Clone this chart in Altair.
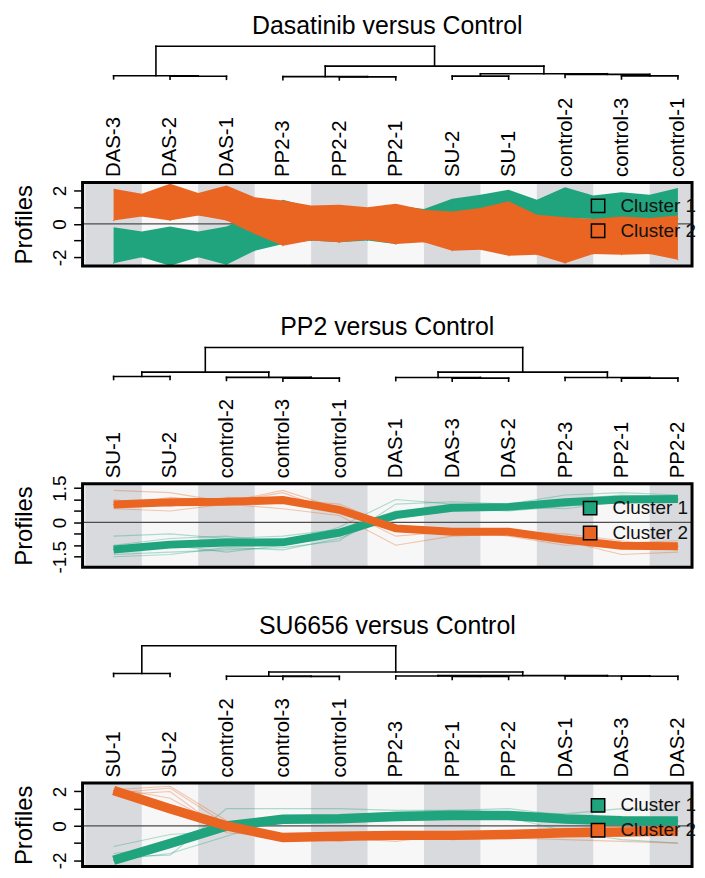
import altair as alt
import pandas as pd

FONT = "Liberation Sans"
GREEN = "#1fa47d"
ORANGE = "#ea6522"
GRAY_BAND = "#d8dade"
WHITE_BAND = "#f7f7f7"
CLUSTERS = ["Cluster 1", "Cluster 2"]

W = 613
PH = 84
DH = 34
HANG = 0.1
XDOM = [0.45, 11.25]

# ---------------- Panel 1 : Dasatinib versus Control ----------------
p1_title = "Dasatinib versus Control"
p1_samples = ["DAS-3", "DAS-2", "DAS-1", "PP2-3", "PP2-2", "PP2-1",
              "SU-2", "SU-1", "control-2", "control-3", "control-1"]
# merges: (child a, child b, height); ints refer to earlier merges
p1_merges = [("DAS-2", "DAS-1", 0.025), ("DAS-3", 0, 0.04),
             ("PP2-2", "PP2-1", 0.005), ("PP2-3", 2, 0.012),
             ("SU-2", "SU-1", 0.03), ("control-3", "control-1", 0.036),
             ("control-2", 5, 0.086), (4, 6, 0.107), (3, 7, 0.355), (1, 8, 1.0)]
p1_ydom = [-2.52, 2.48]
p1_yticks = [-2, -1, 0, 1, 2]
p1_ylabels = [-2, 0, 2]
# profile envelopes read at every sample and half-way between samples
p1_c1_hi = [-0.2, -0.45, -0.15, -0.45, -0.15, 0.55, 1.45, 1.0, 1.05, 0.9, 1.1,
            0.9, 1.5, 1.75, 2.05, 1.45, 2.2, 1.7, 1.9, 1.75, 2.15]
p1_c1_lo = [-2.35, -2.0, -2.5, -2.0, -2.45, -1.6, -1.2, -1.0, -1.1, -1.0, -1.2,
            -0.7, 0.1, 0.25, 0.35, 0.3, 0.35, 0.3, 0.3, 0.3, 0.3]
p1_c2_hi = [2.1, 1.8, 2.4, 1.85, 2.3, 1.6, 1.4, 1.1, 1.15, 1.0, 1.2,
            0.85, 0.75, 0.95, 1.35, 0.55, 0.4, 0.3, 0.45, 0.35, 0.5]
p1_c2_lo = [0.2, 0.45, 0.2, 0.5, 0.2, -0.6, -1.3, -1.0, -1.1, -0.95, -1.2,
            -1.1, -1.6, -1.55, -1.9, -1.85, -2.35, -1.8, -1.85, -1.8, -2.15]

# ---------------- Panel 2 : PP2 versus Control ----------------
p2_title = "PP2 versus Control"
p2_samples = ["SU-1", "SU-2", "control-2", "control-3", "control-1",
              "DAS-1", "DAS-3", "DAS-2", "PP2-3", "PP2-1", "PP2-2"]
p2_merges = [("SU-1", "SU-2", 0.06), ("control-3", "control-1", 0.005),
             ("control-2", 1, 0.03), (0, 2, 0.2),
             ("DAS-3", "DAS-2", 0.005), ("DAS-1", 4, 0.025),
             ("PP2-1", "PP2-2", 0.005), ("PP2-3", 6, 0.025),
             (5, 7, 0.2), (3, 8, 1.0)]
p2_ydom = [-1.96, 1.69]
p2_yticks = [-1.5, -1, -0.5, 0, 0.5, 1, 1.5]
p2_ylabels = [-1.5, 0, 1.5]
p2_c1_mean = [-1.18, -0.97, -0.88, -0.87, -0.45, 0.32, 0.64, 0.68, 0.88, 1.0, 1.02]
p2_c2_mean = [0.78, 0.88, 0.9, 0.98, 0.55, -0.26, -0.41, -0.41, -0.75, -1.02, -1.04]
p2_c1_members = [
    [-1.4, -1.3, -1.2, -1.1, -0.8, 0.8, 0.9, 0.8, 1.2, 1.3, 1.2],
    [-0.6, -0.5, -0.7, -0.6, -0.3, 0.5, 0.7, 0.7, 1.0, 1.2, 1.1],
    [-1.0, -0.7, -0.6, -0.9, -0.6, 0.2, 0.5, 0.6, 0.9, 0.9, 0.9],
    [-1.5, -1.4, -1.1, -1.2, -0.7, 0.3, 0.6, 0.5, 0.7, 1.0, 1.1],
    [-1.1, -1.0, -1.3, -1.0, -0.2, 1.0, 0.8, 0.7, 0.6, 0.9, 1.0],
]
p2_c2_members = [
    [1.4, 1.3, 0.9, 1.4, 0.6, -0.6, -0.4, -0.3, -0.6, -1.0, -1.2],
    [0.6, 0.5, 0.8, 0.6, 0.3, -1.0, -0.6, -0.5, -0.8, -1.4, -1.3],
    [1.0, 0.7, 1.1, 1.0, 0.8, -0.2, -0.3, -0.6, -1.0, -0.9, -0.8],
    [0.7, 1.1, 0.9, 1.3, 0.4, -0.4, -0.5, -0.4, -0.5, -0.8, -1.1],
]

# ---------------- Panel 3 : SU6656 versus Control ----------------
p3_title = "SU6656 versus Control"
p3_samples = ["SU-1", "SU-2", "control-2", "control-3", "control-1",
              "PP2-3", "PP2-1", "PP2-2", "DAS-1", "DAS-3", "DAS-2"]
p3_merges = [("SU-1", "SU-2", 0.1), ("control-3", "control-1", 0.004),
             ("control-2", 1, 0.01), ("PP2-1", "PP2-2", 0.005),
             ("PP2-3", 3, 0.02), ("DAS-3", "DAS-2", 0.008),
             ("DAS-1", 5, 0.02), (4, 6, 0.03), (2, 7, 0.15), (0, 8, 1.0)]
p3_ydom = [-2.36, 2.49]
p3_yticks = [-2, -1, 0, 1, 2]
p3_ylabels = [-2, 0, 2]
p3_c1_mean = [-2.0, -1.02, 0.0, 0.38, 0.42, 0.55, 0.6, 0.6, 0.4, 0.3, 0.28]
p3_c2_mean = [2.06, 1.0, 0.0, -0.68, -0.6, -0.55, -0.55, -0.5, -0.4, -0.35, -0.3]
p3_c1_members = [
    [-1.8, -1.7, 1.0, 1.0, 1.0, 0.9, 0.9, 0.8, 0.7, 1.0, 0.9],
    [-1.2, -0.5, -0.3, 0.3, 0.2, 0.3, 0.4, 0.5, -0.3, -0.8, -1.0],
    [-2.0, -1.6, -0.6, 0.4, 0.6, 0.8, 0.9, 1.0, 0.6, 0.5, 0.4],
    [-1.6, -1.2, 0.2, 0.6, 0.3, 0.5, 0.4, 0.6, 0.3, 0.0, 0.2],
]
p3_c2_members = [
    [2.1, 2.3, 0.3, -0.8, -0.5, -0.7, -0.6, -0.5, -0.2, 0.0, -0.1],
    [1.8, 2.0, -0.4, -0.6, -0.9, -0.5, -0.8, -0.7, -0.8, -0.9, -1.0],
    [2.2, 1.6, -0.2, -0.9, -0.6, -0.4, -0.4, -0.6, -0.5, -0.6, -0.5],
    [1.9, 2.2, 0.1, -0.5, -0.7, -0.9, -0.5, -0.3, -0.3, -0.2, -0.6],
]


# ---------------- helpers ----------------
def dendro_segments(leaves, merges):
    pos = {name: i + 1 for i, name in enumerate(leaves)}
    nx, nh, segs = [], [], []
    for a, b, h in merges:
        xs = []
        for c in (a, b):
            if isinstance(c, str):
                cx, ch = pos[c], h - HANG
            else:
                cx, ch = nx[c], nh[c]
            segs.append({"x": cx, "x2": cx, "y": ch, "y2": h})
            xs.append(cx)
        segs.append({"x": xs[0], "x2": xs[1], "y": h, "y2": h})
        nx.append((xs[0] + xs[1]) / 2)
        nh.append(h)
    return pd.DataFrame(segs)


def dendro_chart(title, leaves, merges):
    df = dendro_segments(leaves, merges)
    return alt.Chart(df).mark_rule(color="black", strokeWidth=1.6, strokeCap="square").encode(
        x=alt.X("x:Q", scale=alt.Scale(domain=XDOM, nice=False, zero=False), axis=None),
        x2="x2:Q",
        y=alt.Y("y:Q", scale=alt.Scale(domain=[-HANG, 1.0], nice=False, zero=False), axis=None),
        y2="y2:Q",
    ).properties(
        width=W, height=DH,
        title=alt.Title(title, fontSize=25, font=FONT, fontWeight="normal",
                        anchor="middle", offset=6, color="black"),
    )


def x_enc(samples, field="x"):
    names = "[" + ",".join("'" + s + "'" for s in samples) + "]"
    return alt.X(
        field, type="quantitative",
        scale=alt.Scale(domain=XDOM, nice=False, zero=False),
        axis=alt.Axis(orient="top", values=list(range(1, len(samples) + 1)),
                      labelExpr=names + "[datum.value - 1]",
                      labelAngle=270, labelAlign="left", labelBaseline="middle",
                      labelPadding=6, labelFontSize=20.5, labelFont=FONT, labelColor="black",
                      ticks=False, domain=False, grid=False, labelOverlap=False,
                      labelFlush=False, title=None),
    )


def y_axis(ticks, labeled):
    lab = "[" + ",".join(str(v) for v in labeled) + "]"
    return alt.Axis(values=ticks,
                    labelExpr="indexof(" + lab + ", datum.value) >= 0 ? '' + datum.value : ''",
                    domain=False, grid=False, ticks=True, tickColor="black", tickWidth=1.5,
                    tickSize=9, labelAngle=270, labelAlign="center", labelBaseline="middle",
                    labelPadding=14, labelFontSize=19, labelFont=FONT, labelColor="black",
                    labelOverlap=False, labelFlush=False,
                    title="Profiles", titleFontSize=24, titleFont=FONT,
                    titleFontWeight="normal", titlePadding=14, titleColor="black")


def y_enc(field, dom, ticks, labeled):
    return alt.Y(field, type="quantitative",
                 scale=alt.Scale(domain=dom, nice=False, zero=False),
                 axis=y_axis(ticks, labeled))


def legend(lx, ly):
    return alt.Legend(title=None, orient="none", legendX=lx, legendY=ly,
                      symbolType="square", symbolSize=180, symbolStrokeColor="black",
                      symbolStrokeWidth=1.5, labelFontSize=19, labelFont=FONT,
                      labelColor="#111111", labelOffset=13, rowPadding=4, padding=0)


color_scale = alt.Scale(domain=CLUSTERS, range=[GREEN, ORANGE])
# same colours, listed the other way round so that this scale never merges legends
stroke_scale = alt.Scale(domain=CLUSTERS[::-1], range=[ORANGE, GREEN])


def base_layers(samples, dom, ticks, labeled):
    n = len(samples)
    odd = list(range(1, n + 1, 2))
    bands = pd.DataFrame({"x": [max(i - 0.5, XDOM[0]) for i in odd],
                          "x2": [min(i + 0.5, XDOM[1]) for i in odd]})
    band = alt.Chart(bands).mark_rect(color=GRAY_BAND, clip=True).encode(
        x=x_enc(samples), x2="x2:Q", y=alt.value(0), y2=alt.value(PH))
    zero = alt.Chart(pd.DataFrame({"z": [0]})).mark_rule(
        color="#4d4d4d", strokeWidth=1.4).encode(y=y_enc("z", dom, ticks, labeled))
    return band, zero


def key_layer(df, samples, dom, ticks, labeled, yfield, lx, ly):
    # tiny filled squares hidden under the profiles: they carry the cluster legend
    return alt.Chart(df).mark_square(size=1, filled=True, opacity=1, clip=True).encode(
        x=x_enc(samples), y=y_enc(yfield, dom, ticks, labeled),
        color=alt.Color("cluster:N", scale=color_scale, legend=legend(lx, ly)))


def frame_layer():
    return alt.Chart(pd.DataFrame({"f": [0]})).mark_rect(
        filled=False, stroke="black", strokeWidth=3, fillOpacity=0).encode(
        x=alt.value(0), x2=alt.value(W), y=alt.value(0), y2=alt.value(PH))


def indep(c):
    return c.resolve_scale(color="independent", stroke="independent").resolve_legend(
        color="independent", stroke="independent")


def finish(dendro, prof):
    return indep(alt.vconcat(dendro, prof, spacing=16))


def panel1():
    xs = [1 + i / 2 for i in range(len(p1_c1_hi))]
    frames = []
    for cl, hi, lo in (("Cluster 1", p1_c1_hi, p1_c1_lo), ("Cluster 2", p1_c2_hi, p1_c2_lo)):
        frames.append(pd.DataFrame({"x": xs, "hi": hi, "lo": lo, "cluster": cl, "grp": cl}))
    df = pd.concat(frames, ignore_index=True)
    band, zero = base_layers(p1_samples, p1_ydom, p1_yticks, p1_ylabels)
    keys = key_layer(df, p1_samples, p1_ydom, p1_yticks, p1_ylabels, "lo", 509, 14)
    area = alt.Chart(df).mark_area(clip=True, opacity=1).encode(
        x=x_enc(p1_samples),
        y=y_enc("hi", p1_ydom, p1_yticks, p1_ylabels),
        y2="lo:Q",
        fill=alt.Fill("grp:N", scale=stroke_scale, legend=None),
    )
    prof = alt.layer(band, zero, keys, area, frame_layer()).properties(
        width=W, height=PH, view=alt.ViewBackground(fill=WHITE_BAND, strokeWidth=0))
    return finish(dendro_chart(p1_title, p1_samples, p1_merges), prof)


def lines_panel(title, samples, merges, dom, ticks, labeled, m1, m2, mem1, mem2,
                lx, ly, thick_w):
    mean_rows = []
    for cl, arr in (("Cluster 1", m1), ("Cluster 2", m2)):
        for i, v in enumerate(arr):
            mean_rows.append({"x": i + 1, "y": v, "cluster": cl, "grp": cl})
    mdf = pd.DataFrame(mean_rows)
    mem_rows = []
    k = 0
    for cl, group in (("Cluster 1", mem1), ("Cluster 2", mem2)):
        for arr in group:
            for i, v in enumerate(arr):
                mem_rows.append({"x": i + 1, "y": v, "grp": cl, "id": k})
            k += 1
    tdf = pd.DataFrame(mem_rows)
    band, zero = base_layers(samples, dom, ticks, labeled)
    stroke = alt.Stroke("grp:N", scale=stroke_scale, legend=None)
    thin = alt.Chart(tdf).mark_line(strokeWidth=1.1, opacity=0.35, clip=True).encode(
        x=x_enc(samples), y=y_enc("y", dom, ticks, labeled), stroke=stroke, detail="id:N")
    keys = key_layer(mdf, samples, dom, ticks, labeled, "y", lx, ly)
    thick = alt.Chart(mdf).mark_line(strokeWidth=thick_w, strokeCap="butt", clip=True).encode(
        x=x_enc(samples), y=y_enc("y", dom, ticks, labeled), stroke=stroke, detail="grp:N")
    prof = alt.layer(band, zero, thin, keys, thick, frame_layer()).properties(
        width=W, height=PH, view=alt.ViewBackground(fill=WHITE_BAND, strokeWidth=0))
    return finish(dendro_chart(title, samples, merges), prof)


pan1 = panel1()
pan2 = lines_panel(p2_title, p2_samples, p2_merges, p2_ydom, p2_yticks, p2_ylabels,
                   p2_c1_mean, p2_c2_mean, p2_c1_members, p2_c2_members, 501, 15, 8)
pan3 = lines_panel(p3_title, p3_samples, p3_merges, p3_ydom, p3_yticks, p3_ylabels,
                   p3_c1_mean, p3_c2_mean, p3_c1_members, p3_c2_members, 509, 13, 9.5)

top = indep(alt.vconcat(pan1, pan2, spacing=47))
chart = indep(alt.vconcat(top, pan3, spacing=40))

chart = chart.properties(
    padding={"left": 4, "top": 3, "right": 0, "bottom": 0},
    background="white",
).configure_view(strokeWidth=0)

chart.save("out.html", embed_options={"renderer": "svg", "actions": False})
